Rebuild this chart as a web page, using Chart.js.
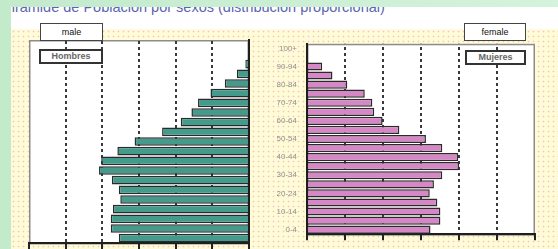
<!DOCTYPE html>
<html>
<head>
<meta charset="utf-8">
<script src="https://cdn.jsdelivr.net/npm/chart.js@4"></script>
<style>
body{margin:0;width:558px;height:249px;overflow:hidden;position:relative;
  background:linear-gradient(90deg,#c2eacb,#d4f3dc);font-family:"Liberation Sans",Arial,sans-serif}
#sheet{position:absolute;left:11px;top:7px;width:547px;height:242px;background:#fff;overflow:hidden}
#title{position:absolute;left:-9px;top:-7px;font-size:14.5px;line-height:15px;color:#5c64b4;white-space:nowrap}
#paper{position:absolute;left:11px;top:29px;width:547px;height:220px;background-color:#fffbd6;
  background-image:radial-gradient(circle,#f1c4c2 0.7px,transparent 1.1px);background-size:5px 5px}
canvas{position:absolute}
#left{left:11px;top:29px}
#right{left:250px;top:29px}
.tag{position:absolute;top:23px;height:16px;line-height:16px;background:#fff;border:1px solid #444;
  font-size:9px;text-align:center;color:#111}
.key{position:absolute;height:11px;line-height:11px;background:#fff;border:2px solid #333;
  font-size:9px;font-weight:bold;text-align:center;color:#666}
</style>
</head>
<body>
<div id="sheet"><div id="title">Pirámide de Población por sexos (distribución proporcional)</div></div>
<div id="paper"></div>
<canvas id="left" width="239" height="220"></canvas>
<canvas id="right" width="308" height="220"></canvas>
<div class="tag" style="left:40px;width:61px">male</div>
<div class="tag" style="left:464px;width:60px">female</div>
<div class="key" style="left:39px;top:49px;width:60px">Hombres</div>
<div class="key" style="left:465px;top:50px;width:57px">Mujeres</div>
<script>
// grupos de edad, de 0-4 hasta 100+
const ageGroups = ['0-4','5-9','10-14','15-19','20-24','25-29','30-34','35-39','40-44','45-49',
  '50-54','55-59','60-64','65-69','70-74','75-79','80-84','85-89','90-94','95-99','100+'];
// % de la poblacion total
const hombres = [3.55,3.77,3.77,3.71,3.51,3.55,3.74,4.09,4.03,3.59,3.12,2.37,1.86,1.57,1.39,1.05,0.66,0.33,0.10,0,0];
const mujeres = [3.25,3.51,3.51,3.43,3.23,3.34,3.56,4.00,3.98,3.56,3.13,2.43,1.99,1.77,1.72,1.52,1.06,0.67,0.40,0,0];
const xMax = 6;

// lineas punteadas: patron de puntos 3px / hueco 3px
function dotPattern() {
    const p = document.createElement('canvas');
    p.width = 2; p.height = 6;
    const g = p.getContext('2d');
    g.fillStyle = '#3a3a3a';
    g.fillRect(0, 0, 2, 3);
    return g.createPattern(p, 'repeat');
}
const dots = dotPattern();

const plotFrame = {
    id: 'plotFrame',
    beforeDraw(chart) {
        const a = chart.chartArea, c = chart.ctx;
        c.save();
        c.fillStyle = '#fff';
        c.fillRect(a.left, a.top, a.right - a.left, a.bottom - a.top);
        c.strokeStyle = '#8c8c8c';
        c.lineWidth = 1.5;
        c.strokeRect(a.left + 0.75, a.top + 0.75, a.right - a.left - 1.5, a.bottom - a.top);
        c.restore();
    }
};

function xScale(rev) {
    return {
        min: 0, max: xMax, reverse: rev,
        ticks: { display: false, stepSize: 1 },
        grid: {
            color: ctx => (ctx.tick && (ctx.tick.value === 0 || ctx.tick.value === xMax)) ? 'rgba(0,0,0,0)' : dots,
            lineWidth: 2, tickLength: 6, tickColor: '#222', tickWidth: 2
        },
        border: { color: '#1e1e1e', width: 2 }
    };
}

function makePanel(id, data, color, side) {
    const left = side === 'left';
    new Chart(document.getElementById(id), {
        type: 'bar',
        data: {
            labels: ageGroups,
            datasets: [{
                data: data,
                backgroundColor: color,
                borderColor: '#2b2b2b',
                borderWidth: 1.5,
                barPercentage: 0.9,
                categoryPercentage: 1.0
            }]
        },
        options: {
            indexAxis: 'y',
            responsive: false,
            animation: false,
            devicePixelRatio: 1,
            layout: { padding: left ? { left: 18, right: 1, top: 11, bottom: 0 } : { left: 0, right: 23, top: 11, bottom: 0 } },
            plugins: { legend: { display: false }, tooltip: { enabled: false } },
            scales: {
                x: xScale(left),
                y: {
                    position: left ? 'right' : 'left',
                    reverse: true,
                    grid: { display: false, drawTicks: false },
                    border: { color: '#1e1e1e', width: 2 },
                    ticks: {
                        display: !left,
                        autoSkip: false,
                        padding: 10,
                        color: '#909090',
                        font: { family: 'Liberation Sans', size: 8 },
                        callback: (v, i) => i % 2 === 0 ? ageGroups[i] : ''
                    },
                    afterFit: s => { s.width = left ? 0 : 57; }
                }
            }
        },
        plugins: [plotFrame]
    });
}

makePanel('left', hombres, '#449b8c', 'left');
makePanel('right', mujeres, '#d688c6', 'right');
</script>
</body>
</html>
